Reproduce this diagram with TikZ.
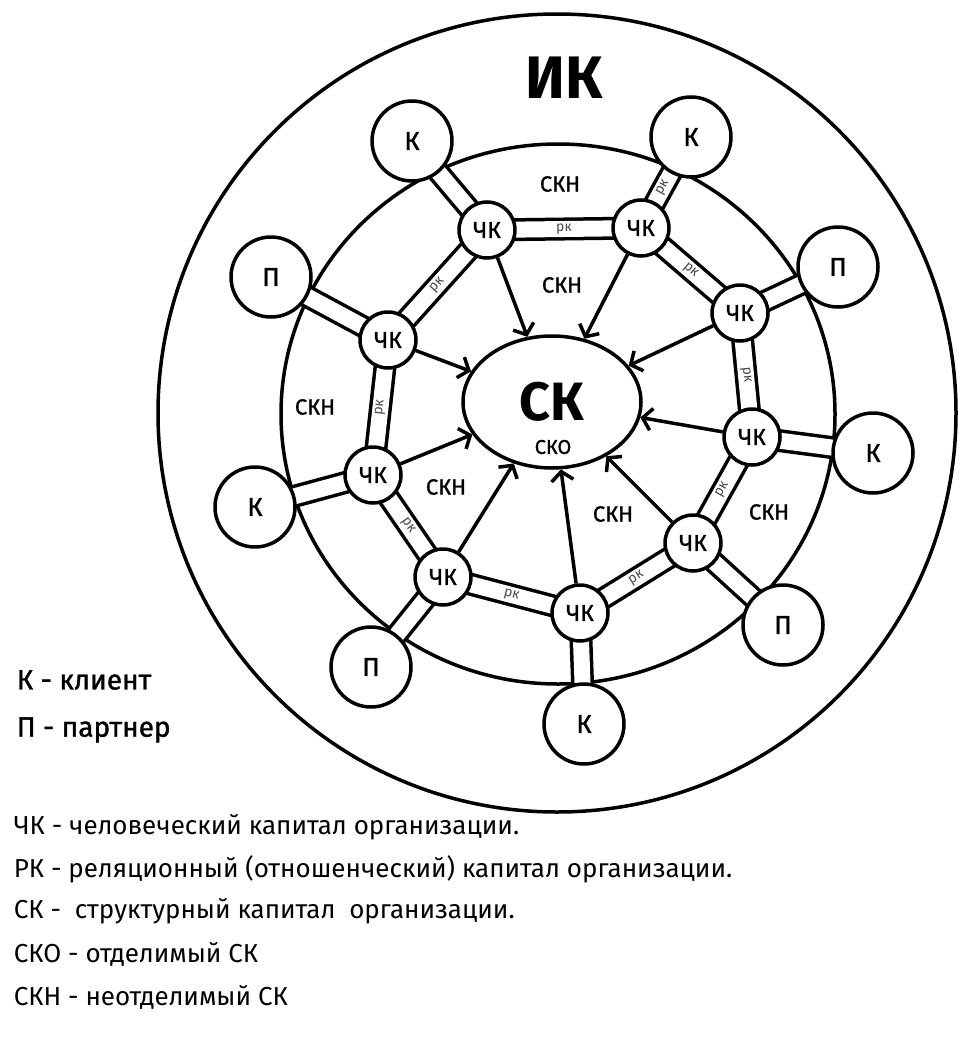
\documentclass[tikz,border=0pt]{standalone}
\usepackage{fontspec}
\setmainfont{Fira Sans}
\newfontfamily\medfont{Fira Sans}[FakeBold=1.2]
\usetikzlibrary{shapes.geometric,arrows.meta,backgrounds}

\begin{document}
\begin{tikzpicture}[x=1pt,y=-1pt,line width=3.5pt,
  ring/.style={line width=3.5pt},
  chk/.style={draw,circle,fill=white,inner sep=0pt,minimum size=56pt,font=\medfont\fontsize{23}{25}\selectfont},
  agent/.style={draw,circle,fill=white,inner sep=0pt,minimum size=80pt,font=\medfont\fontsize{26}{28}\selectfont},
  tube/.style={double=white,double distance=16pt,line width=3.5pt},
  rk/.style={font=\fontsize{14}{15}\selectfont,text=black!70,inner sep=0pt,sloped},
  skn/.style={font=\medfont\fontsize{22}{24}\selectfont},
  toSK/.style={line width=3.5pt,-{Straight Barb[length=9pt,width=22pt]}},
  legend/.style={anchor=west,inner sep=0pt,font=\fontsize{26}{28}\selectfont}]
\useasboundingbox (0,0) rectangle (959,1041);

% capital nodes
\node[draw,ellipse,fill=white,inner sep=0pt,minimum width=178pt,minimum height=132pt,
  font=\fontsize{54}{56}\bfseries\selectfont] (sk) at (552,402) {СК};
\node[font=\medfont\fontsize{20}{22}\selectfont] (sko) at (553,447) {СКО};
\node[font=\fontsize{60}{62}\bfseries\selectfont] (ik) at (564,78) {ИК};

\node[chk] (c1) at (487,230) {ЧК};
\node[chk] (c2) at (641,228) {ЧК};
\node[chk] (c3) at (740,313) {ЧК};
\node[chk] (c4) at (752,437) {ЧК};
\node[chk] (c5) at (693,543) {ЧК};
\node[chk] (c6) at (580,613) {ЧК};
\node[chk] (c7) at (443,577) {ЧК};
\node[chk] (c8) at (373,475) {ЧК};
\node[chk] (c9) at (388,340) {ЧК};

% clients and partners
\node[agent] (k1) at (412,141) {К};
\node[agent] (k2) at (691,137) {К};
\node[agent] (p3) at (838,267) {П};
\node[agent] (k4) at (873,453) {К};
\node[agent] (p5) at (783,625) {П};
\node[agent] (k6) at (584,724) {К};
\node[agent] (p7) at (371,667) {П};
\node[agent] (k8) at (255,507) {К};
\node[agent] (p9) at (271,277) {П};

\begin{scope}[on background layer]
\draw[ring] (557,413) circle[radius=399pt];
\draw[ring] (558,414) ellipse[x radius=277pt,y radius=270pt];
\foreach \a/\b in {c1/c2,c2/c3,c3/c4,c4/c5,c5/c6,c6/c7,c7/c8,c8/c9,c9/c1}
  \draw[tube] (\a.center) -- (\b.center) node[rk,midway] {рк};
\foreach \a/\b in {c1/k1,c3/p3,c4/k4,c5/p5,c6/k6,c7/p7,c8/k8,c9/p9}
  \draw[tube] (\a.center) -- (\b.center);
\draw[tube] (c2.center) -- (k2.center) node[rk,pos=.44] {рк};
\end{scope}

\foreach \a in {c1,c2,c3,c4,c5,c6,c7,c8,c9}
  \draw[toSK] (\a) -- (sk);

\node[skn] (skn1) at (560,184) {СКН};
\node[skn] (skn2) at (562,285) {СКН};
\node[skn] (skn3) at (315,407) {СКН};
\node[skn] (skn4) at (446,487) {СКН};
\node[skn] (skn5) at (613,514) {СКН};
\node[skn] (skn6) at (769,512) {СКН};

% legend
\node[legend,font=\medfont\fontsize{28}{30}\selectfont] (lk) at (15,680) {К - клиент};
\node[legend,font=\medfont\fontsize{28}{30}\selectfont] (lp) at (15,730) {П - партнер};
\node[legend] (l1) at (12,827) {ЧК - человеческий капитал организации.};
\node[legend] (l2) at (12,869) {РК - реляционный (отношенческий) капитал организации.};
\node[legend] (l3) at (12,911) {СК - \ структурный капитал \ организации.};
\node[legend] (l4) at (12,954) {СКО - отделимый СК};
\node[legend] (l5) at (12,997) {СКН - неотделимый СК};
\end{tikzpicture}
\end{document}
